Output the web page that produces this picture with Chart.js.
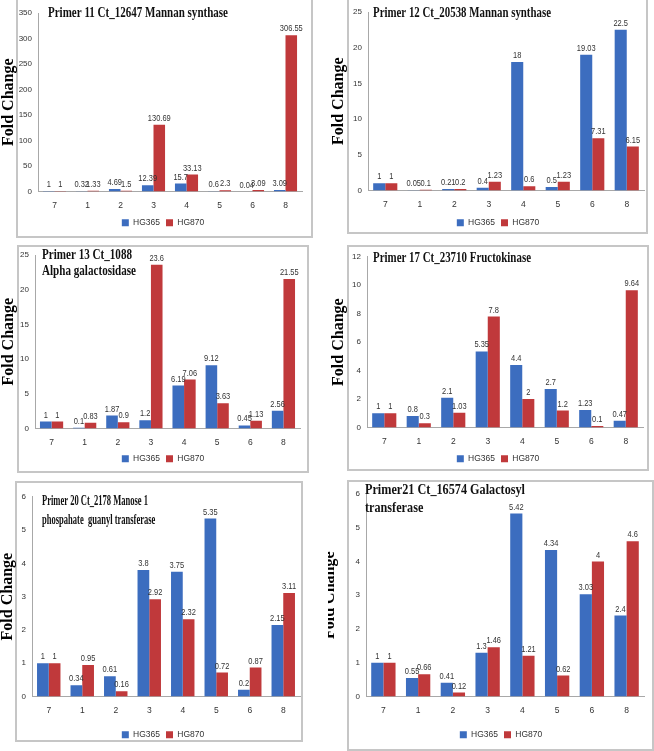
<!DOCTYPE html>
<html>
<head>
<meta charset="utf-8">
<script src="https://cdn.jsdelivr.net/npm/chart.js@4.4.1/dist/chart.umd.min.js"></script>
<style>
  body { margin: 0; background: #fff; width: 654px; height: 751px; position: relative; overflow: hidden; }
  .box { position: absolute; border: 2px solid #c6c6c6; box-sizing: border-box; }
  canvas { position: absolute; }
</style>
</head>
<body>
<div class="box" style="left:16px;top:-4px;width:297px;height:242px"></div>
<div class="box" style="left:347px;top:-4px;width:301px;height:238px"></div>
<div class="box" style="left:17px;top:245px;width:292px;height:228px"></div>
<div class="box" style="left:347px;top:245px;width:302px;height:226px"></div>
<div class="box" style="left:15px;top:481px;width:288px;height:261px"></div>
<div class="box" style="left:347px;top:480px;width:307px;height:271px"></div>

<canvas id="p11"></canvas>
<canvas id="p12"></canvas>
<canvas id="p13"></canvas>
<canvas id="p17"></canvas>
<canvas id="p20"></canvas>
<canvas id="p21"></canvas>

<script>
// x categories (same order in every panel)
const categories = ['7', '1', '2', '3', '4', '5', '6', '8'];
const seriesNames = ['HG365', 'HG870'];

// Primer 11 Ct_12647 Mannan synthase
const p11_hg365 = [1, 0.32, 4.69, 12.39, 15.7, 0.6, 0.04, 3.09];
const p11_hg870 = [1, 1.33, 1.5, 130.69, 33.13, 2.3, 3.09, 306.55];
const p11_ticks = [0, 50, 100, 150, 200, 250, 300, 350];

// Primer 12 Ct_20538 Mannan synthase
const p12_hg365 = [1, 0.05, 0.21, 0.4, 18, 0.5, 19.03, 22.5];
const p12_hg870 = [1, 0.1, 0.2, 1.23, 0.6, 1.23, 7.31, 6.15];
const p12_ticks = [0, 5, 10, 15, 20, 25];

// Primer 13 Ct_1088 Alpha galactosidase
const p13_hg365 = [1, 0.1, 1.87, 1.2, 6.19, 9.12, 0.45, 2.56];
const p13_hg870 = [1, 0.83, 0.9, 23.6, 7.06, 3.63, 1.13, 21.55];
const p13_ticks = [0, 5, 10, 15, 20, 25];

// Primer 17 Ct_23710 Fructokinase
const p17_hg365 = [1, 0.8, 2.1, 5.35, 4.4, 2.7, 1.23, 0.47];
const p17_hg870 = [1, 0.3, 1.03, 7.8, 2, 1.2, 0.1, 9.64];
const p17_ticks = [0, 2, 4, 6, 8, 10, 12];

// Primer 20 Ct_2178 Manose 1 phospahate guanyl transferase
const p20_hg365 = [1, 0.34, 0.61, 3.8, 3.75, 5.35, 0.2, 2.15];
const p20_hg870 = [1, 0.95, 0.16, 2.92, 2.32, 0.72, 0.87, 3.11];
const p20_ticks = [0, 1, 2, 3, 4, 5, 6];

// Primer21 Ct_16574 Galactosyl transferase
const p21_hg365 = [1, 0.55, 0.41, 1.3, 5.42, 4.34, 3.03, 2.4];
const p21_hg870 = [1, 0.66, 0.12, 1.46, 1.21, 0.62, 4, 4.6];
const p21_ticks = [0, 1, 2, 3, 4, 5, 6];

const p11_title = ['Primer 11 Ct_12647 Mannan synthase'];
const p12_title = ['Primer 12 Ct_20538 Mannan synthase'];
const p13_title = ['Primer 13 Ct_1088', 'Alpha galactosidase'];
const p17_title = ['Primer 17 Ct_23710 Fructokinase'];
const p20_title = ['Primer 20 Ct_2178 Manose 1', 'phospahate  guanyl transferase'];
const p21_title = ['Primer21 Ct_16574 Galactosyl', 'transferase'];

const BLUE = '#3c6dbf';
const RED = '#c0393b';
const smallFont = '"Liberation Sans Narrow", "Liberation Sans", Arial, sans-serif';
const serifFont = '"Liberation Serif", "Times New Roman", serif';

// value on top of every bar (slightly narrowed like the original)
const valueLabels = {
  id: 'valueLabels',
  afterDatasetsDraw(chart) {
    const ctx = chart.ctx;
    ctx.save();
    ctx.font = '8.5px ' + smallFont;
    ctx.fillStyle = '#333';
    ctx.textAlign = 'center';
    ctx.textBaseline = 'bottom';
    chart.data.datasets.forEach((ds, i) => {
      chart.getDatasetMeta(i).data.forEach((bar, j) => {
        ctx.save();
        ctx.translate(bar.x, bar.y - 2);
        ctx.scale(0.88, 1);
        ctx.fillText(String(ds.data[j]), 0, 0);
        ctx.restore();
      });
    });
    ctx.restore();
  }
};

// bold title written inside the plot, squeezed to the width seen in the figure
const panelTitle = {
  id: 'panelTitle',
  afterDraw(chart, args, opts) {
    if (!opts.lines) return;
    const ctx = chart.ctx;
    ctx.save();
    ctx.font = 'bold 15px ' + serifFont;
    ctx.fillStyle = '#111';
    ctx.textBaseline = 'middle';
    const sx = Math.min(1, opts.width / ctx.measureText(opts.lines[0]).width);
    opts.lines.forEach((line, k) => {
      ctx.save();
      ctx.translate(opts.x, opts.y + k * opts.gap);
      ctx.scale(sx, 1);
      ctx.fillText(line, 0, 0);
      ctx.restore();
    });
    ctx.restore();
  }
};

function makePanel(id, hg365, hg870, ticks, title, g) {
  const canvas = document.getElementById(id);
  const legendH = 27;
  const left = g.canvasLeft !== undefined ? g.canvasLeft : Math.max(0, g.labelX - 8);
  const top = Math.min(g.T - 8, g.titleY - 12);
  const padT = g.T - top;
  const yW = g.L - left;
  const width = 2 * (g.legendX - left);   // legend is centred on the canvas
  const rightW = width - (g.R - left);    // blank box on the right of the plot
  canvas.width = width;
  canvas.height = padT + (g.B - g.T) + g.xH + legendH;
  canvas.style.left = left + 'px';
  canvas.style.top = top + 'px';

  new Chart(canvas, {
    type: 'bar',
    data: {
      labels: categories,
      datasets: [
        { label: seriesNames[0], data: hg365, backgroundColor: BLUE },
        { label: seriesNames[1], data: hg870, backgroundColor: RED }
      ]
    },
    options: {
      responsive: false,
      animation: false,
      layout: { padding: { top: padT, right: 0, left: 0, bottom: 0 } },
      categoryPercentage: 0.7,
      barPercentage: 1.0,
      scales: {
        x: {
          grid: { display: false, drawTicks: false },
          border: { display: true, color: '#a8a8a8', width: 1 },
          ticks: { color: '#333', padding: 9, font: { family: smallFont, size: 8.5 } },
          afterFit(scale) { scale.height = g.xH; }
        },
        y: {
          min: 0,
          max: ticks[ticks.length - 1],
          afterBuildTicks(scale) { scale.ticks = ticks.map(v => ({ value: v })); },
          grid: { display: false, drawTicks: false },
          border: { display: true, color: '#a8a8a8', width: 1 },
          ticks: { color: '#333', padding: 6, font: { family: smallFont, size: 8 } },
          title: {
            display: true,
            text: 'Fold Change',
            color: '#000',
            padding: { top: g.labelPad || 0, bottom: 0 },
            font: { family: serifFont, size: 16, weight: 'bold', lineHeight: 1 }
          },
          afterFit(scale) { scale.width = yW; }
        },
        yRight: {
          position: 'right',
          min: 0,
          max: 1,
          grid: { display: false, drawTicks: false },
          border: { display: false },
          ticks: { display: false },
          afterFit(scale) { scale.width = rightW; }
        }
      },
      plugins: {
        legend: {
          position: 'bottom',
          labels: {
            boxWidth: 7, boxHeight: 7, padding: 6, color: '#333',
            font: { family: smallFont, size: 8.5 }
          }
        },
        tooltip: { enabled: false },
        panelTitle: {
          lines: title,
          x: g.titleX - left,
          y: g.titleY - top,
          width: g.titleW,
          gap: g.gap || 17
        }
      }
    },
    plugins: [valueLabels, panelTitle]
  });
}

makePanel('p11', p11_hg365, p11_hg870, p11_ticks, p11_title,
  { labelX: 9, L: 38, R: 302, T: 13, B: 189, xH: 21, legendX: 163,
    titleX: 48, titleY: 13, titleW: 180 });
makePanel('p12', p12_hg365, p12_hg870, p12_ticks, p12_title,
  { labelX: 339, L: 368, R: 644, T: 12, B: 188, xH: 22, legendX: 498,
    titleX: 373, titleY: 13, titleW: 178 });
makePanel('p13', p13_hg365, p13_hg870, p13_ticks, p13_title,
  { labelX: 9, L: 35, R: 300, T: 255, B: 426, xH: 20, legendX: 163,
    titleX: 42, titleY: 255, titleW: 90, gap: 16 });
makePanel('p17', p17_hg365, p17_hg870, p17_ticks, p17_title,
  { labelX: 339, L: 367, R: 643, T: 255, B: 425, xH: 21, legendX: 498,
    titleX: 373, titleY: 258, titleW: 158 });
makePanel('p20', p20_hg365, p20_hg870, p20_ticks, p20_title,
  { labelX: 8, L: 32, R: 300, T: 494, B: 694, xH: 28, legendX: 163,
    titleX: 42, titleY: 501, titleW: 106, gap: 19 });
// the left half of this panel's axis title is hidden in the original
makePanel('p21', p21_hg365, p21_hg870, p21_ticks, p21_title,
  { labelX: 330, canvasLeft: 328, labelPad: -6, L: 366, R: 644, T: 494, B: 694, xH: 28, legendX: 501,
    titleX: 365, titleY: 490, titleW: 160, gap: 18 });
</script>
</body>
</html>
